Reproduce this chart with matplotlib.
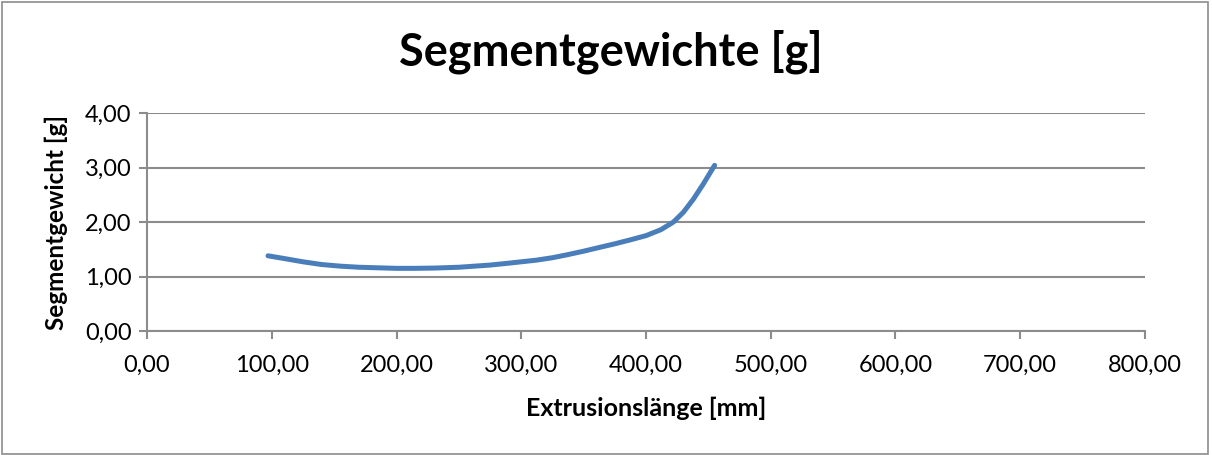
import matplotlib.pyplot as plt
from matplotlib.ticker import FuncFormatter, MultipleLocator

# Werte
laenge = [97, 110, 125, 140, 155, 170, 185, 200, 215, 230, 250, 275, 290, 300, 312, 325,
          337, 350, 362, 375, 387, 400, 412, 422, 430, 438, 446, 455]
gewicht = [1.38, 1.33, 1.27, 1.22, 1.19, 1.17, 1.16, 1.15, 1.15, 1.155, 1.17, 1.21, 1.245,
           1.27, 1.30, 1.345, 1.40, 1.465, 1.53, 1.60, 1.67, 1.75, 1.86, 2.0, 2.18,
           2.42, 2.70, 3.04]

titel = "Segmentgewichte [g]"
x_label = "Extrusionslänge [mm]"
y_label = "Segmentgewicht [g]"

plt.rcParams["font.family"] = ["Lato", "DejaVu Sans"]

fig = plt.figure(figsize=(12.12, 4.55), dpi=100)
ax = fig.add_axes([0.1213, 0.2725, 0.8234, 0.4791])

ax.plot(laenge, gewicht, color="#4a7ebb", linewidth=3.6, solid_capstyle="round",
        solid_joinstyle="round", zorder=3)

ax.set_xlim(0, 800)
ax.set_ylim(0, 4)
ax.xaxis.set_major_locator(MultipleLocator(100))
ax.yaxis.set_major_locator(MultipleLocator(1))
komma = FuncFormatter(lambda v, p: f"{v:.2f}".replace(".", ","))
ax.xaxis.set_major_formatter(komma)
ax.yaxis.set_major_formatter(komma)

ax.grid(axis="y", color="#8c8c8c", linewidth=1.5)
ax.set_axisbelow(True)
for s in ["top", "right"]:
    ax.spines[s].set_visible(False)
for s in ["left", "bottom"]:
    ax.spines[s].set_color("#8c8c8c")
    ax.spines[s].set_linewidth(1.5)
ax.tick_params(axis="both", colors="#8c8c8c", width=1.5, length=6, labelsize=17,
               labelcolor="black")
ax.tick_params(axis="x", pad=11)
ax.tick_params(axis="y", pad=5)

ax.set_xlabel(x_label, fontsize=18, fontweight="bold", labelpad=15)
ax.set_ylabel(y_label, fontsize=17.5, fontweight="bold", labelpad=12)
fig.text(0.504, 0.886, titel, ha="center", va="center", fontsize=32.5, fontweight="bold")

# Rahmen um das Diagramm
fig.patches.append(plt.Rectangle((0.002, 0.003), 0.995, 0.993, transform=fig.transFigure,
                                 fill=False, edgecolor="#8c8c8c", linewidth=1.2))

fig.savefig("out.png", dpi=100)
